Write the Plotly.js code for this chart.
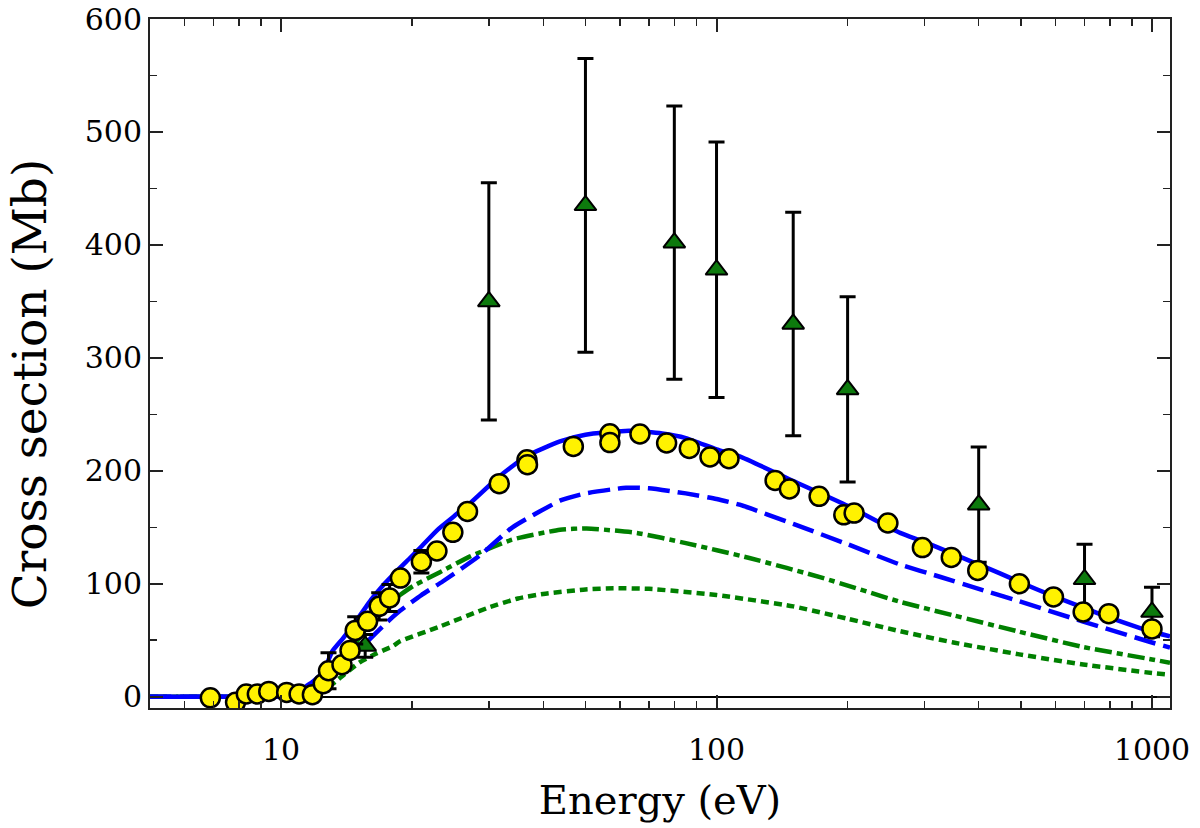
<!DOCTYPE html>
<html>
<head>
<meta charset="utf-8">
<script src="https://cdn.plot.ly/plotly-3.0.1.min.js"></script>
<style>
html,body{margin:0;padding:0;background:#fff;}
#chart{width:1200px;height:828px;}
</style>
</head>
<body>
<div id="chart"></div>
<script>
// Experimental data: yellow circles
var circE = [6.88, 7.86, 8.32, 8.82, 9.37, 10.3, 11.0, 11.8, 12.5, 12.85, 13.8, 14.4, 14.8, 15.8, 16.8, 17.75, 18.8, 21.0, 22.8, 24.8, 26.8, 31.7, 36.7, 36.8, 46.9, 56.9, 56.9, 66.7, 76.8, 86.6, 96.6, 106.8, 136.3, 147, 172, 196, 207, 247.5, 297, 346, 398, 496, 594, 695, 796, 1000];
var circV = [-1, -5, 2.4, 2.4, 4.7, 3.8, 2.4, 1.8, 11.5, 23, 28.3, 41, 58.7, 66.7, 80, 87.4, 105, 119.5, 129, 145.5, 164, 188.6, 209.8, 205.4, 221.6, 232.8, 225, 232.6, 224.6, 219.8, 212.2, 210.7, 191.5, 183.9, 177.4, 161, 162.6, 153.8, 132, 123.3, 111.8, 100, 88.3, 75, 73.5, 60];
var circErr = [0, 0, 0, 0, 0, 0, 0, 0, 0, 16, 0, 0, 12, 0, 12, 12, 0, 10, 0, 0, 0, 0, 0, 0, 0, 0, 0, 0, 0, 0, 0, 0, 0, 0, 0, 0, 0, 0, 0, 0, 0, 0, 0, 0, 0, 0];

// Experimental data: green triangles
var triE = [15.6, 30, 50, 80, 100, 150, 200, 400, 700, 1000];
var triV = [45, 350, 435, 402, 378, 330, 272, 170, 104, 75];
var triErr = [10, 105, 130, 121, 113, 99, 82, 51, 31, 22];

// Theory: total (solid blue)
var totE = [5, 7, 9, 10, 10.5, 10.9, 11.4, 11.8, 12.5, 13.1, 13.9, 14.8, 15.7, 16.1, 17, 18.75, 19.8, 21, 22.9, 25, 27.1, 31.7, 36.6, 43.7, 50, 63, 75, 85, 100, 113, 150, 200, 264, 300, 400, 449, 500, 594, 700, 800, 1000, 1100];
var totV = [0, 0, 0, 0, 0, 0, 9, 13, 22, 40, 52, 66, 80, 86, 97, 114, 123, 133, 148, 160, 171, 195, 213, 226, 232, 235.5, 233, 229, 219, 212.8, 191, 169, 145, 137, 117, 109, 101, 89, 78.5, 70, 57.5, 53.5];

// Theory: long dashed blue
var dashE = [5, 7, 9, 10.5, 11.3, 11.9, 12.5, 13.5, 14.6, 15.7, 17.4, 18.75, 21, 23.5, 28.6, 34, 44, 50, 62, 70, 85, 100, 113, 150, 200, 264, 327, 400, 496, 695, 1000, 1100];
var dashV = [0, 0, 0, 0, 0, 0, 12, 24, 36, 48, 65, 76, 90, 102, 125, 150, 174, 180, 185, 184.5, 180, 175, 170, 153, 135, 117, 106, 95.5, 84.5, 66.5, 48, 43.5];

// Theory: dash-dot green
var ddE = [5, 7, 9, 10.5, 11.4, 12, 13, 14, 15, 16, 17, 18.75, 20.1, 23.1, 27.1, 33.9, 43.7, 50.3, 65.6, 85, 119, 176, 264, 350, 496, 695, 1000, 1100];
var ddV = [0, 0, 0, 0, 0, 0, 15, 32, 50, 65, 77, 90, 98, 110, 124, 139, 147.8, 149, 145, 136, 122.8, 105, 84, 72, 57.5, 44, 33, 30];

// Theory: dotted green
var dotE = [5, 7, 9, 10.5, 11.4, 12, 13.4, 13.9, 15.1, 16.5, 18.1, 18.75, 23.1, 30, 35, 40, 50, 58, 70, 100, 150, 200, 264, 350, 496, 695, 1000, 1100];
var dotV = [0, 0, 0, 0, 0, 0, 14, 19, 30, 38, 45, 49, 62, 79, 87, 91, 95, 96, 95.5, 90, 80, 69, 58, 48, 37.5, 28.5, 21, 19.5];

var xTickVals = [10, 100, 1000];
var xTickText = ['10', '100', '1000'];
var xTitle = 'Energy (eV)';
var yTitle = 'Cross section (Mb)';

var FONT = 'DejaVu Serif';
var BLUE = '#0000ff';
var GREEN = '#008000';
var LW = 4.5;
var SM = 0.5;

var traces = [
  {x: dotE, y: dotV, mode: 'lines', line: {color: GREEN, width: LW, dash: '8px,5px', shape: 'spline', smoothing: SM}, hoverinfo: 'skip'},
  {x: ddE, y: ddV, mode: 'lines', line: {color: GREEN, width: LW, dash: '17px,5px,6px,5px', shape: 'spline', smoothing: SM}, hoverinfo: 'skip'},
  {x: dashE, y: dashV, mode: 'lines', line: {color: BLUE, width: LW, dash: '22px,8px', shape: 'spline', smoothing: SM}, hoverinfo: 'skip'},
  {x: totE, y: totV, mode: 'lines', line: {color: BLUE, width: LW, shape: 'spline', smoothing: SM}, hoverinfo: 'skip'},
  {x: triE, y: triV, mode: 'markers',
   marker: {symbol: 'triangle-up', size: 19, color: '#0d7a0d', line: {color: '#000', width: 2}},
   error_y: {type: 'data', array: triErr, visible: true, color: '#000', thickness: 3, width: 8}},
  {x: circE, y: circV, mode: 'markers',
   marker: {symbol: 'circle', size: 19, color: '#fff200', line: {color: '#000', width: 2.5}},
   error_y: {type: 'data', array: circErr, visible: true, color: '#000', thickness: 3, width: 8}}
];

var layout = {
  width: 1200, height: 828,
  margin: {l: 150, r: 30, t: 19, b: 120},
  paper_bgcolor: '#fff', plot_bgcolor: '#fff',
  showlegend: false,
  font: {family: FONT, color: '#000'},
  xaxis: {
    type: 'log',
    range: [Math.log10(5), Math.log10(1100)],
    tickvals: xTickVals, ticktext: xTickText,
    ticks: 'inside', ticklen: 13, tickwidth: 2, tickcolor: '#222',
    ticklabelstandoff: 14,
    showline: true, linecolor: '#222', linewidth: 2, mirror: 'allticks',
    showgrid: false, zeroline: false,
    tickfont: {family: FONT, size: 30, color: '#000'},
    minor: {dtick: 'D1', ticks: 'inside', ticklen: 7, tickwidth: 1.5, tickcolor: '#222', showgrid: false},
    title: {text: xTitle, font: {family: FONT, size: 40, color: '#000'}, standoff: 20}
  },
  yaxis: {
    range: [-10, 600],
    dtick: 100, tick0: 0,
    ticks: 'inside', ticklen: 13, tickwidth: 2, tickcolor: '#222',
    showline: true, linecolor: '#222', linewidth: 2, mirror: 'allticks',
    showgrid: false,
    zeroline: true, zerolinecolor: '#000', zerolinewidth: 2,
    tickfont: {family: FONT, size: 30, color: '#000'},
    minor: {dtick: 50, ticks: 'inside', ticklen: 7, tickwidth: 1.5, tickcolor: '#222', showgrid: false}
  },
  annotations: [{
    text: yTitle, textangle: -90, showarrow: false,
    xref: 'paper', yref: 'paper', x: -0.1186, y: 0.47,
    xanchor: 'center', yanchor: 'middle',
    font: {family: FONT, size: 47, color: '#000'}
  }]
};

Plotly.newPlot('chart', traces, layout, {staticPlot: true, displayModeBar: false});
</script>
</body>
</html>
